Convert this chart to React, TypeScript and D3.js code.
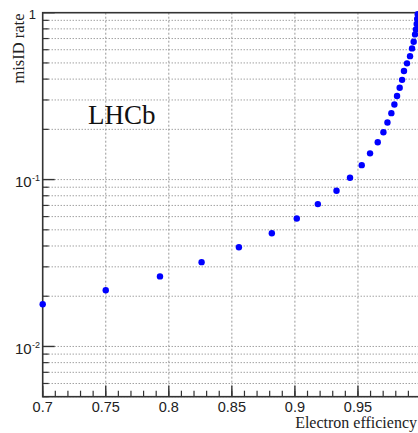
import React from "react";
import * as d3 from "d3";

const W = 418;
const H = 433;

// electron efficiency vs misID rate
const efficiency = [
  0.7, 0.75, 0.793, 0.826, 0.8556, 0.8817, 0.9015, 0.9182, 0.933, 0.9437,
  0.953, 0.9596, 0.9657, 0.9702, 0.9734, 0.9765, 0.9789, 0.981, 0.9831, 0.985,
  0.9865, 0.9889, 0.9913, 0.9929, 0.9942, 0.9953, 0.996, 0.9966, 0.997, 0.9974,
];
const misid = [
  0.0179, 0.0217, 0.0263, 0.032, 0.0393, 0.0477, 0.0585, 0.0713, 0.0857, 0.1025,
  0.122, 0.1436, 0.1675, 0.1923, 0.2198, 0.25, 0.282, 0.317, 0.355, 0.396,
  0.447, 0.497, 0.549, 0.611, 0.67, 0.741, 0.794, 0.855, 0.917, 0.98,
];

const xMajor = [0.7, 0.75, 0.8, 0.85, 0.9, 0.95];
const xLabels = ["0.7", "0.75", "0.8", "0.85", "0.9", "0.95"];
const yMajor = [1, 0.1, 0.01];
const yExp = ["", "-1", "-2"];

const LEFT = 42.7;
const RIGHT = 421;
const TOP = 12.7;
const BOTTOM = 396.7;

export default function App() {
  const x = d3.scaleLinear().domain([0.7, 1.0]).range([LEFT, RIGHT]);
  const y = d3.scaleLog().domain([0.005, 1]).range([BOTTOM, TOP]);

  // minor y values 2..9 per decade inside the domain
  const yMinor: number[] = [];
  [0.001, 0.01, 0.1].forEach((d) => {
    for (let k = 2; k <= 9; k++) {
      const v = d * k;
      if (v >= 0.005 - 1e-9 && v < 1) yMinor.push(v);
    }
  });
  const xMinor = d3.range(0.7, 1.0001, 0.01);

  const sans = "'Liberation Sans', Arial, sans-serif";
  const serif = "'Liberation Serif', 'Times New Roman', serif";

  return (
    <svg width={W} height={H} style={{ position: "absolute", left: 0, top: 0, background: "#fff" }}>
      {/* horizontal grid */}
      {[...yMinor, 0.1, 0.01].map((v, i) => (
        <line key={"hg" + i} x1={LEFT} x2={RIGHT} y1={y(v)} y2={y(v)}
          stroke="#777" strokeWidth={1} strokeDasharray="1 2" />
      ))}
      {/* vertical grid */}
      {xMajor.slice(1).map((v, i) => (
        <line key={"vg" + i} x1={x(v)} x2={x(v)} y1={TOP} y2={BOTTOM}
          stroke="#999" strokeWidth={1} strokeDasharray="2 2" />
      ))}
      {/* frame */}
      <rect x={LEFT} y={TOP} width={RIGHT - LEFT} height={BOTTOM - TOP} fill="none" stroke="#333" strokeWidth={1.6} />
      {/* y ticks */}
      {yMajor.map((v, i) => (
        <line key={"ymt" + i} x1={LEFT} x2={LEFT + 12} y1={y(v)} y2={y(v)} stroke="#333" strokeWidth={1.4} />
      ))}
      {yMinor.map((v, i) => (
        <line key={"ynt" + i} x1={LEFT} x2={LEFT + 6} y1={y(v)} y2={y(v)} stroke="#333" strokeWidth={1.2} />
      ))}
      {/* x ticks */}
      {xMinor.map((v, i) => (
        <line key={"xnt" + i} x1={x(v)} x2={x(v)} y1={BOTTOM} y2={BOTTOM - 6} stroke="#333" strokeWidth={1.2} />
      ))}
      {xMajor.map((v, i) => (
        <line key={"xmt" + i} x1={x(v)} x2={x(v)} y1={BOTTOM} y2={BOTTOM - 11} stroke="#333" strokeWidth={1.4} />
      ))}
      {/* x tick labels */}
      {xMajor.map((v, i) => (
        <text key={"xl" + i} x={x(v)} y={412} textAnchor="middle" fontFamily={sans} fontSize={14.5} fill="#222">
          {xLabels[i]}
        </text>
      ))}
      {/* y tick labels */}
      {yMajor.map((v, i) =>
        yExp[i] === "" ? (
          <text key={"yl" + i} x={36} y={y(v) + 6} textAnchor="end" fontFamily={sans} fontSize={13} fill="#222">1</text>
        ) : (
          <g key={"yl" + i}>
            <text x={31.7} y={y(v) + 7.5} textAnchor="end" fontFamily={sans} fontSize={15} fill="#222">10</text>
            <text x={32} y={y(v) + 1.5} textAnchor="start" fontFamily={sans} fontSize={9} fill="#222">{yExp[i]}</text>
          </g>
        )
      )}
      {/* points */}
      {efficiency.map((e, i) => (
        <circle key={"p" + i} cx={x(e)} cy={y(misid[i])} r={3.2} fill="#0000ff" />
      ))}
      {/* titles */}
      <text transform="translate(23.5,13.5) rotate(-90)" textAnchor="end" fontFamily={serif} fontSize={16.5} fill="#222">
        misID rate
      </text>
      <text x={417} y={428} textAnchor="end" fontFamily={serif} fontSize={16} fill="#222">
        Electron efficiency
      </text>
      <text x={88} y={124} fontFamily={serif} fontSize={27} fill="#111">LHCb</text>
    </svg>
  );
}
